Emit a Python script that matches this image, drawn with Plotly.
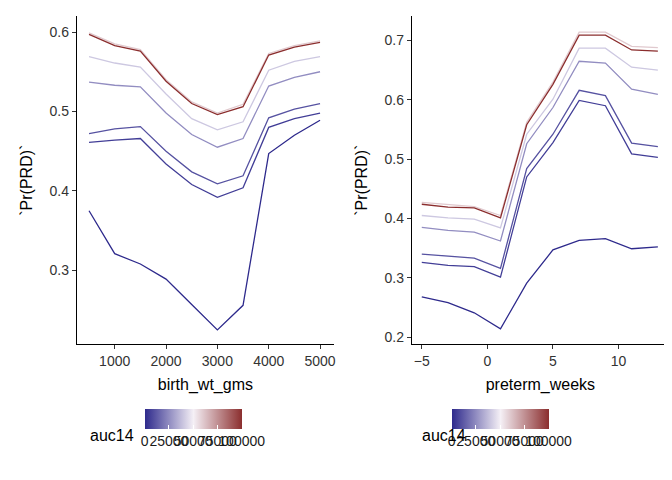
import plotly.graph_objects as go
from plotly.subplots import make_subplots
from plotly.colors import sample_colorscale

birth_wt_gms = [500, 1000, 1500, 2000, 2500, 3000, 3500, 4000, 4500, 5000]
preterm_weeks = [-5, -3, -1, 1, 3, 5, 7, 9, 11, 13]
auc14 = [0, 5000, 10000, 25000, 40000, 60000, 100000]

pr_birth = [
    [0.375, 0.321, 0.308, 0.289, 0.257, 0.225, 0.256, 0.447, 0.470, 0.489],
    [0.461, 0.464, 0.466, 0.434, 0.408, 0.392, 0.404, 0.480, 0.491, 0.498],
    [0.472, 0.478, 0.481, 0.450, 0.424, 0.409, 0.419, 0.492, 0.503, 0.510],
    [0.537, 0.533, 0.531, 0.498, 0.471, 0.455, 0.466, 0.532, 0.543, 0.550],
    [0.569, 0.561, 0.556, 0.522, 0.491, 0.477, 0.487, 0.552, 0.563, 0.569],
    [0.599, 0.585, 0.578, 0.540, 0.512, 0.498, 0.509, 0.573, 0.583, 0.589],
    [0.597, 0.583, 0.576, 0.538, 0.510, 0.496, 0.506, 0.571, 0.581, 0.587],
]
pr_preterm = [
    [0.268, 0.258, 0.241, 0.214, 0.291, 0.347, 0.363, 0.366, 0.349, 0.352],
    [0.326, 0.321, 0.319, 0.301, 0.470, 0.528, 0.599, 0.590, 0.509, 0.503],
    [0.340, 0.336, 0.333, 0.316, 0.484, 0.542, 0.616, 0.607, 0.527, 0.521],
    [0.385, 0.380, 0.377, 0.362, 0.526, 0.587, 0.665, 0.662, 0.618, 0.609],
    [0.405, 0.401, 0.399, 0.384, 0.542, 0.601, 0.687, 0.687, 0.655, 0.650],
    [0.427, 0.423, 0.420, 0.405, 0.562, 0.630, 0.714, 0.714, 0.690, 0.688],
    [0.424, 0.419, 0.418, 0.401, 0.558, 0.626, 0.709, 0.709, 0.684, 0.682],
]

scale = [[0, '#2E2A8C'], [0.5, '#F5F0F6'], [1, '#8B2E2E']]
font = 'Liberation Sans, Arial, sans-serif'

fig = make_subplots(rows=1, cols=2)
for col, xs, ys in [(1, birth_wt_gms, pr_birth), (2, preterm_weeks, pr_preterm)]:
    for a, y in zip(auc14, ys):
        c = sample_colorscale(scale, [a / 100000])[0]
        fig.add_trace(go.Scatter(x=xs, y=y, mode='lines', line=dict(color=c, width=1.3),
                                 showlegend=False, hoverinfo='skip'), row=1, col=col)
    # dummy trace for the colour bar
    fig.add_trace(go.Scatter(x=[xs[0]], y=[ys[0][0]], mode='markers', showlegend=False,
                             marker=dict(size=0.1, opacity=0, color=[0],
                                         coloraxis='coloraxis' if col == 1 else 'coloraxis2')),
                  row=1, col=col)

def cbar(xl):
    return dict(colorscale=scale, cmin=0, cmax=100000,
                colorbar=dict(orientation='h', x=xl, xanchor='left', y=0.162, yanchor='top',
                              xpad=0, ypad=0,
                              len=0.145, lenmode='fraction', thickness=20, outlinewidth=0,
                              tickvals=[0, 25000, 50000, 75000, 100000],
                              ticktext=['0', '25000', '50000', '75000', '100000'],
                              tickangle=0, ticks='inside', ticklen=4, tickcolor='white',
                              tickfont=dict(size=14, color='#1a1a1a')))

fig.update_layout(
    width=672, height=480, margin=dict(l=0, r=0, t=0, b=0),
    plot_bgcolor='white', paper_bgcolor='white',
    font=dict(family=font, color='black'),
    coloraxis=cbar(0.204), coloraxis2=cbar(0.662),
    xaxis=dict(domain=[0.1027, 0.4866], range=[262, 5272], tickvals=[1000, 2000, 3000, 4000, 5000]),
    xaxis2=dict(domain=[0.6027, 0.9866], range=[-5.76, 13.85], tickvals=[-5, 0, 5, 10]),
    yaxis=dict(domain=[0.298, 0.983], range=[0.207, 0.62], tickvals=[0.3, 0.4, 0.5, 0.6]),
    yaxis2=dict(domain=[0.298, 0.983], range=[0.188, 0.741], tickvals=[0.2, 0.3, 0.4, 0.5, 0.6, 0.7]),
)
axis_style = dict(showgrid=False, zeroline=False, showline=True, linecolor='black', linewidth=1,
                  ticks='outside', ticklen=4, tickcolor='#333333', tickfont=dict(size=14, color='#333333'))
fig.update_xaxes(**axis_style)
fig.update_yaxes(**axis_style, tickformat='.1f')
fig.update_xaxes(title=dict(text='birth_wt_gms', font=dict(size=16), standoff=10), row=1, col=1)
fig.update_xaxes(title=dict(text='preterm_weeks', font=dict(size=16), standoff=10), row=1, col=2)
fig.update_yaxes(title=dict(text='`Pr(PRD)`', font=dict(size=16), standoff=12))

for xa in [0.119, 0.615]:
    fig.add_annotation(text='auc14', x=xa, y=0.085, xref='paper', yref='paper',
                       showarrow=False, font=dict(size=16), xanchor='left')

fig.write_html('out.html')
